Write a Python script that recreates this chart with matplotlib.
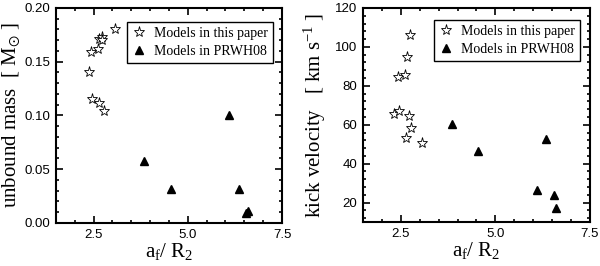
import matplotlib
matplotlib.use("Agg")
import matplotlib.pyplot as plt
from matplotlib.ticker import MultipleLocator, FormatStrFormatter
from matplotlib.lines import Line2D

# models in this paper (stars)
star_x_mass = [2.37, 2.43, 2.61, 2.63, 2.71, 2.73, 3.07, 2.46, 2.63, 2.77]
star_mass = [0.140, 0.159, 0.162, 0.171, 0.173, 0.170, 0.180, 0.115, 0.112, 0.104]
star_x_kick = [2.73, 2.65, 2.43, 2.61, 2.33, 2.46, 2.72, 2.77, 2.63, 3.07]
star_kick = [106.1, 94.9, 84.3, 85.5, 65.4, 66.9, 64.3, 58.5, 53.3, 50.6]

# models in PRWH08 (triangles)
tri_x_mass = [6.10, 3.84, 4.55, 6.35, 6.54, 6.60]
tri_mass = [0.100, 0.058, 0.032, 0.032, 0.0095, 0.0115]
tri_x_kick = [3.86, 4.55, 6.34, 6.10, 6.55, 6.60]
tri_kick = [60.6, 46.6, 52.8, 26.5, 24.1, 17.1]

serif = "Liberation Serif"
sans = "Liberation Sans"
plt.rcParams["mathtext.fontset"] = "custom"
plt.rcParams["mathtext.rm"] = serif
plt.rcParams["mathtext.it"] = serif + ":italic"
plt.rcParams["mathtext.fallback"] = "stix"

fig = plt.figure(figsize=(6.0, 2.66), dpi=100)
ax1 = fig.add_axes([0.0933, 0.1617, 0.3767, 0.8083])
ax2 = fig.add_axes([0.605, 0.1654, 0.3783, 0.8046])

star_kw = dict(ls="none", marker="*", ms=8, mfc="white", mec="black", mew=0.6)
tri_kw = dict(ls="none", marker="^", ms=5.5, mfc="black", mec="black")

def style(ax, ymaj, ymin):
	ax.set_xlim(1.5, 7.5)
	ax.xaxis.set_major_locator(MultipleLocator(2.5))
	ax.xaxis.set_minor_locator(MultipleLocator(0.5))
	ax.yaxis.set_major_locator(MultipleLocator(ymaj))
	ax.yaxis.set_minor_locator(MultipleLocator(ymin))
	ax.tick_params(which="both", direction="in", top=True, right=True, width=1.2)
	ax.tick_params(which="major", length=5, labelsize=9.5, pad=4)
	ax.tick_params(which="minor", length=2.5)
	for s in ax.spines.values():
		s.set_linewidth(1.5)
	for lab in ax.get_xticklabels() + ax.get_yticklabels():
		lab.set_family(sans)
	ax.set_xlabel(r"a$_{\mathrm{f}}$/ R$_{\mathrm{2}}$", family=serif, fontsize=15, labelpad=0)

ax1.plot(star_x_mass, star_mass, **star_kw)
ax1.plot(tri_x_mass, tri_mass, **tri_kw)
ax1.set_ylim(0, 0.2)
style(ax1, 0.05, 0.01)
ax1.yaxis.set_major_formatter(FormatStrFormatter("%.2f"))
ax1.set_ylabel(r"unbound mass  [ M$_{\odot}$ ]", family=serif, fontsize=15, labelpad=2)

ax2.plot(star_x_kick, star_kick, **star_kw)
ax2.plot(tri_x_kick, tri_kick, **tri_kw)
ax2.set_ylim(10, 120)
style(ax2, 20, 4)
ax2.set_ylabel(r"kick velocity   [ km s$^{\mathrm{-1}}$ ]", family=serif, fontsize=15, labelpad=5)

handles = [Line2D([], [], **star_kw), Line2D([], [], **tri_kw)]
labels = ["Models in this paper", "Models in PRWH08"]
for ax, anchor in ((ax1, (0.96, 0.935)), (ax2, (0.957, 0.945))):
	leg = ax.legend(handles, labels, loc="upper right", bbox_to_anchor=anchor,
		prop={"family": serif, "size": 10}, fancybox=False, framealpha=1,
		edgecolor="black", borderpad=0.35, handletextpad=0.6, labelspacing=0.3,
		handlelength=1.0, borderaxespad=0, handleheight=0.9)
	leg.get_frame().set_linewidth(1.0)

fig.savefig("out.png", dpi=100)
